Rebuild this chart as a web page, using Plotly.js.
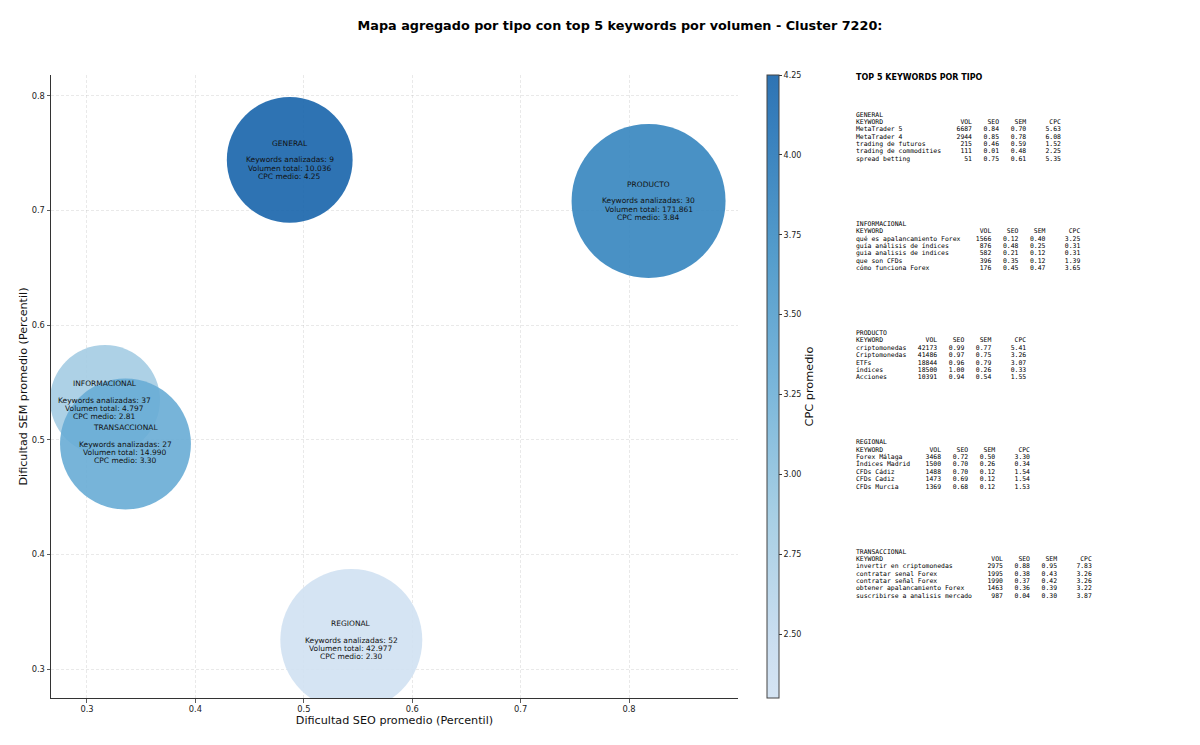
<!DOCTYPE html>
<html><head><meta charset="utf-8">
<script src="https://cdn.plot.ly/plotly-3.0.1.min.js"></script>
<style>html,body{margin:0;padding:0;background:#fff}#chart{width:1200px;height:745px}</style>
</head><body><div id="chart"></div>
<script>
// ---- aggregated data per type ----
const tipos = ["GENERAL","INFORMACIONAL","PRODUCTO","REGIONAL","TRANSACCIONAL"];
const seoMedio = [0.487,0.3166,0.818,0.5438,0.3355];
const semMedio = [0.7442,0.5347,0.7084,0.3253,0.4963];
const numKeywords = [9,37,30,52,27];
const volumenTotal = [10036,4797,171861,42977,14990];
const cpcMedio = [4.25,2.81,3.84,2.30,3.30];

// ---- top 5 keywords per type ----
const kwGeneral = ["MetaTrader 5","MetaTrader 4","trading de futuros","trading de commodities","spread betting"];
const volGeneral = [6687,2944,215,111,51];
const seoGeneral = [0.84,0.85,0.46,0.01,0.75];
const semGeneral = [0.70,0.78,0.59,0.48,0.61];
const cpcGeneral = [5.63,6.08,1.52,2.25,5.35];

const kwInfo = ["qué es apalancamiento Forex","guía análisis de índices","guia analisis de indices","que son CFDs","cómo funciona Forex"];
const volInfo = [1566,876,582,396,176];
const seoInfo = [0.12,0.48,0.21,0.35,0.45];
const semInfo = [0.40,0.25,0.12,0.12,0.47];
const cpcInfo = [3.25,0.31,0.31,1.39,3.65];

const kwProducto = ["criptomonedas","Criptomonedas","ETFs","índices","Acciones"];
const volProducto = [42173,41486,18844,18500,10391];
const seoProducto = [0.99,0.97,0.96,1.00,0.94];
const semProducto = [0.77,0.75,0.79,0.26,0.54];
const cpcProducto = [5.41,3.26,3.07,0.33,1.55];

const kwRegional = ["Forex Málaga","Índices Madrid","CFDs Cádiz","CFDs Cadiz","CFDs Murcia"];
const volRegional = [3468,1500,1488,1473,1369];
const seoRegional = [0.72,0.70,0.70,0.69,0.68];
const semRegional = [0.50,0.26,0.12,0.12,0.12];
const cpcRegional = [3.30,0.34,1.54,1.54,1.53];

const kwTrans = ["invertir en criptomonedas","contratar senal Forex","contratar señal Forex","obtener apalancamiento Forex","suscribirse a analisis mercado"];
const volTrans = [2975,1995,1990,1463,987];
const seoTrans = [0.88,0.38,0.37,0.36,0.04];
const semTrans = [0.95,0.43,0.42,0.39,0.30];
const cpcTrans = [7.83,3.26,3.26,3.22,3.87];

const blocks = [
  ["GENERAL", kwGeneral, volGeneral, seoGeneral, semGeneral, cpcGeneral],
  ["INFORMACIONAL", kwInfo, volInfo, seoInfo, semInfo, cpcInfo],
  ["PRODUCTO", kwProducto, volProducto, seoProducto, semProducto, cpcProducto],
  ["REGIONAL", kwRegional, volRegional, seoRegional, semRegional, cpcRegional],
  ["TRANSACCIONAL", kwTrans, volTrans, seoTrans, semTrans, cpcTrans]
];

// ---- layout helpers ----
const L=51, R=738, T=75, B=698;
const pw=R-L, ph=B-T;
const pxX = v => (v-L)/pw;
const pxY = v => (B-v)/ph;
const thousands = n => String(n).replace(/\B(?=(\d{3})+(?!\d))/g,'.');
const nb = s => s.replace(/ /g,'\u00A0');

// colour scale: truncated Blues with alpha
const A = 0.9;
const rgba = (r,g,b) => `rgba(${r},${g},${b},${A})`;
const colorscale = [
  [0.0, rgba(208,225,242)],
  [0.0833, rgba(198,219,239)],
  [0.2917, rgba(158,202,225)],
  [0.5, rgba(107,174,214)],
  [0.7083, rgba(66,146,198)],
  [0.9167, rgba(33,113,181)],
  [1.0, rgba(23,100,171)]
];

// marker size from volume (log scaled)
const lv = volumenTotal.map(v => Math.log10(v));
const lmin = Math.min(...lv), lmax = Math.max(...lv);
const sizes = lv.map(l => 2*(55 + 22*Math.pow((l-lmin)/(lmax-lmin), 0.65)));

const trace = {
  type:'scatter', mode:'markers',
  x: seoMedio, y: semMedio,
  marker:{
    size: sizes, sizemode:'diameter', opacity:1,
    color: cpcMedio, cmin: Math.min(...cpcMedio), cmax: Math.max(...cpcMedio),
    colorscale: colorscale,
    line:{width:0},
    colorbar:{
      x: pxX(767), xanchor:'left', xpad:0, y:0.5, yanchor:'middle', ypad:0,
      len:1, lenmode:'fraction', thickness:12,
      outlinecolor:'#444', outlinewidth:1,
      tickvals:[2.5,2.75,3.0,3.25,3.5,3.75,4.0,4.25], tickformat:'.2f',
      ticks:'outside', ticklen:3, tickcolor:'#333',
      tickfont:{family:'DejaVu Sans', size:8, color:'#222'},
      title:{text:'CPC promedio', side:'right', font:{family:'DejaVu Sans', size:11.3, color:'#111'}}
    }
  },
  hoverinfo:'skip', showlegend:false, cliponaxis:true
};

const annotations = [];
// bubble labels
tipos.forEach((t,i)=>{
  const lines = [t, `Keywords analizadas: ${numKeywords[i]}`, `Volumen total: ${thousands(volumenTotal[i])}`, `CPC medio: ${cpcMedio[i].toFixed(2)}`];
  const shifts = [16.4, 0, -8.1, -16.2];
  lines.forEach((txt,j)=>{
    annotations.push({xref:'x', yref:'y', x:seoMedio[i], y:semMedio[i], yshift:shifts[j],
      text:txt, showarrow:false, xanchor:'center', yanchor:'middle',
      font:{family:'DejaVu Sans', size:7.5, color:'#111'}});
  });
});

// right panel
annotations.push({xref:'paper', yref:'paper', x:pxX(855), y:pxY(78), xanchor:'left', yanchor:'middle',
  text:'<b>TOP 5 KEYWORDS POR TIPO</b>', showarrow:false, borderpad:0,
  font:{family:'DejaVu Sans', size:8, color:'#000'}});

blocks.forEach((b,i)=>{
  const [name, kws, vols, seos, sems, cpcs] = b;
  const K = Math.max(...kws.map(k=>k.length));
  const lines = [name,
    'KEYWORD'.padEnd(K) + 'VOL'.padStart(8) + 'SEO'.padStart(7) + 'SEM'.padStart(7) + 'CPC'.padStart(9)];
  kws.forEach((k,j)=>{
    lines.push(k.padEnd(K) + String(vols[j]).padStart(8) + seos[j].toFixed(2).padStart(7) +
      sems[j].toFixed(2).padStart(7) + cpcs[j].toFixed(2).padStart(9));
  });
  const y0 = 114.5 + i*109.25;
  lines.forEach((ln,j)=>{
    annotations.push({xref:'paper', yref:'paper', x:pxX(854.5), y:pxY(y0 + j*7.38),
      xanchor:'left', yanchor:'middle', showarrow:false, text:nb(ln), borderpad:0,
      font:{family:'DejaVu Sans Mono', size:6.43, color:'#000'}});
  });
});

const axisCommon = {
  showline:true, linecolor:'#333', linewidth:1, mirror:false,
  ticks:'outside', ticklen:3.5, tickwidth:0.8, tickcolor:'#333',
  showgrid:true, gridcolor:'rgba(176,176,176,0.35)', gridwidth:0.8, griddash:'3px,2px',
  zeroline:false,
  tickfont:{family:'DejaVu Sans', size:8.3, color:'#222'}
};

const layout = {
  width:1200, height:745,
  margin:{l:L, r:1200-R, t:T, b:745-B, pad:0},
  paper_bgcolor:'#fff', plot_bgcolor:'#fff',
  title:{text:'<b>Mapa agregado por tipo con top 5 keywords por volumen - Cluster 7220:</b>',
    x:620/1200, xanchor:'center', xref:'container', y:1-26/745, yanchor:'middle', yref:'container',
    font:{family:'DejaVu Sans', size:12.8, color:'#000'}},
  xaxis:Object.assign({}, axisCommon, {
    range:[0.2668,0.9005], tickvals:[0.3,0.4,0.5,0.6,0.7,0.8], ticktext:['0.3','0.4','0.5','0.6','0.7','0.8'],
    title:{text:'Dificultad SEO promedio (Percentil)', standoff:2, font:{family:'DejaVu Sans', size:11.2, color:'#111'}}
  }),
  yaxis:Object.assign({}, axisCommon, {
    range:[0.2747,0.8183], tickvals:[0.3,0.4,0.5,0.6,0.7,0.8], ticktext:['0.3','0.4','0.5','0.6','0.7','0.8'],
    title:{text:'Dificultad SEM promedio (Percentil)', standoff:1, font:{family:'DejaVu Sans', size:11.2, color:'#111'}}
  }),
  annotations: annotations
};

Plotly.newPlot('chart', [trace], layout, {staticPlot:true, displayModeBar:false});
</script>
</body></html>
